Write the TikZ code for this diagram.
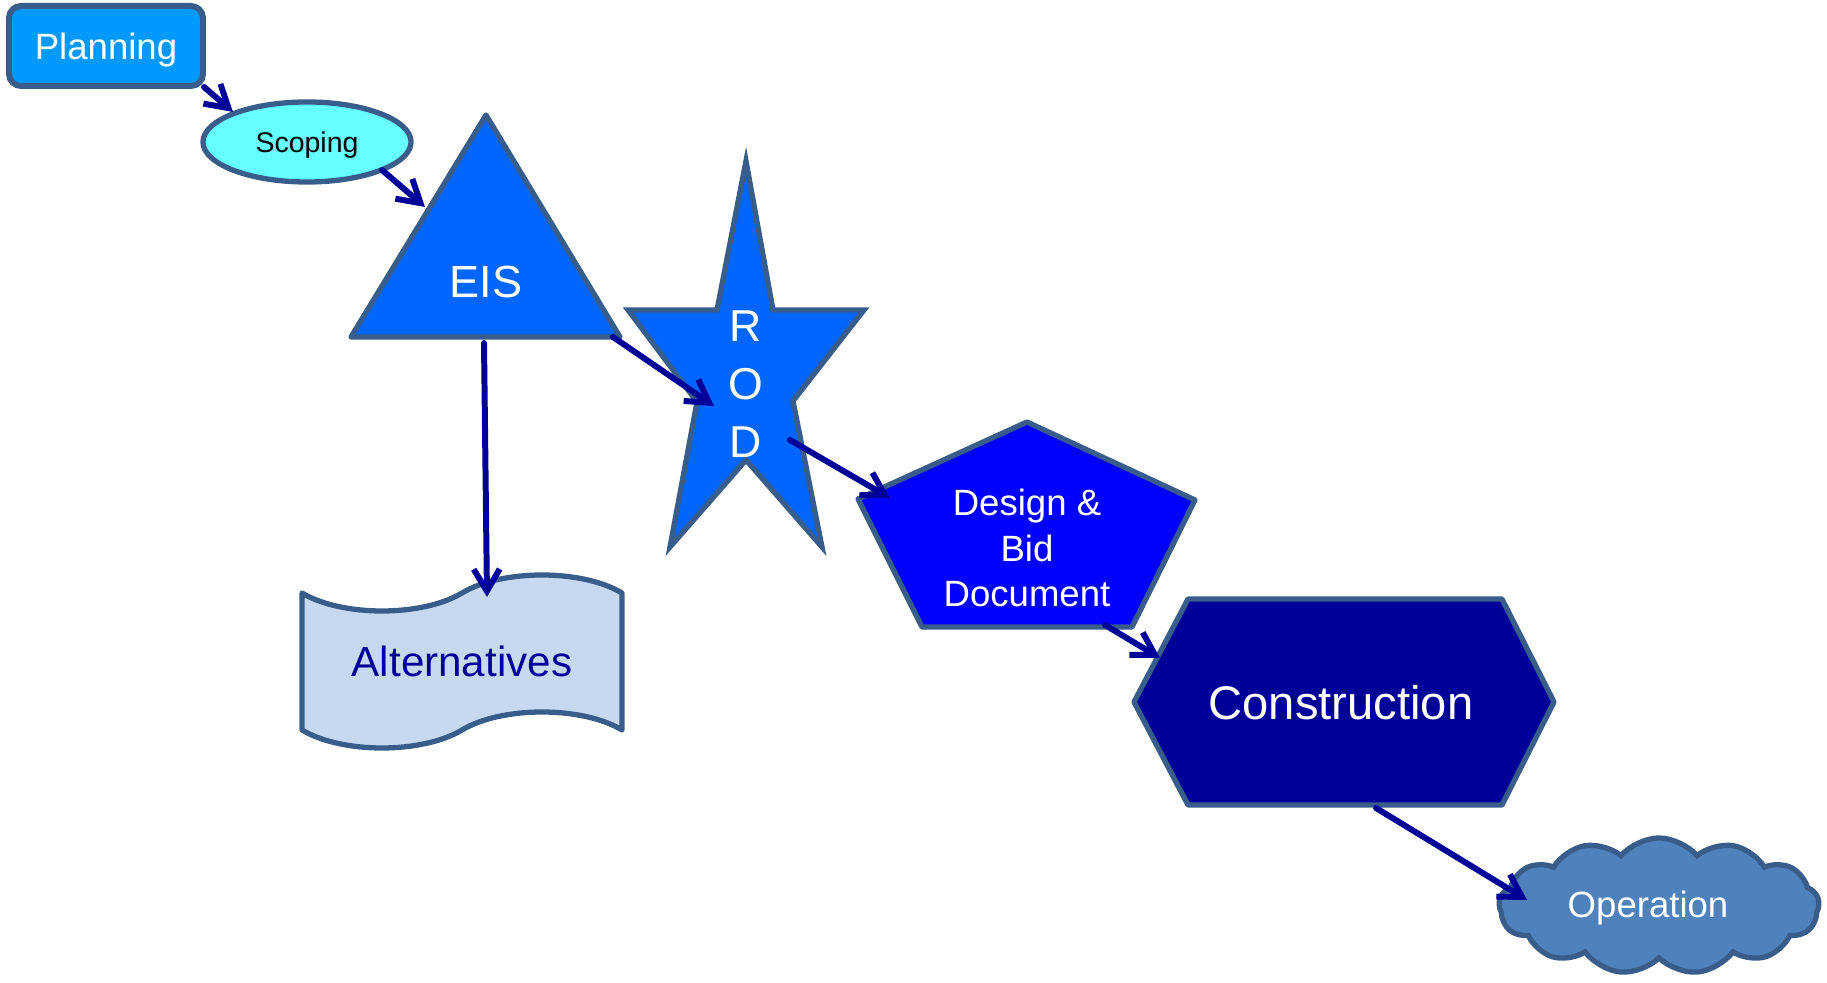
\documentclass[tikz,border=0pt]{standalone}
\usepackage{fontspec}
\setmainfont{Liberation Sans}
\usetikzlibrary{arrows.meta,shapes.symbols}

\definecolor{bordo}{RGB}{56,93,138}
\definecolor{freccia}{RGB}{0,0,153}
\definecolor{azzurro}{RGB}{0,153,255}
\definecolor{ciano}{RGB}{102,255,255}
\definecolor{blu}{RGB}{0,102,255}
\definecolor{bluforte}{RGB}{0,0,255}
\definecolor{blunotte}{RGB}{0,0,153}
\definecolor{nuvola}{RGB}{79,129,189}
\definecolor{carta}{RGB}{198,217,241}

\newcommand{\dimcar}[2]{\fontsize{#1}{#2}\selectfont}

\tikzset{
  forma/.style={draw=bordo, line width=1.5pt},
  conn/.style={draw=freccia, line width=1.7pt, line cap=round, -{Straight Barb[length=2.2mm,width=2.6mm]}},
  scritta/.style={text=white, inner sep=0pt, align=center},
}

\begin{document}
\begin{tikzpicture}[x=0.01cm, y=-0.01cm] %% 1 unita = 1 pixel
\useasboundingbox (0,0) rectangle (1827,983);

%forme
\filldraw[forma, fill=azzurro, line width=1.7pt, rounded corners=0.12cm] (9,6) rectangle (203,86);
\filldraw[forma, fill=ciano] (307,142) ellipse [x radius=1.04cm, y radius=0.4cm];
\filldraw[forma, fill=blu, line join=round] (486,115) -- (620,337) -- (351,337) -- cycle; %triangolo
\filldraw[forma, fill=blu] (746,161) -- (773,310) -- (864,310) -- (793,401) -- (822,547) -- (746,460) -- (670,547) -- (697,402) -- (628,310) -- (717,310) -- cycle; %stella
\filldraw[forma, fill=bluforte, line join=round] (1027,422) -- (1195,500) -- (1132,627) -- (922,627) -- (858,499) -- cycle; %pentagono
\filldraw[forma, fill=blunotte, line join=round] (1134,702) -- (1188,599) -- (1502,599) -- (1554,702) -- (1502,805) -- (1188,805) -- cycle; %esagono
\filldraw[forma, fill=carta, line join=round] (302,593) .. controls (342,617) and (422,617) .. (462,593) .. controls (502,569) and (582,569) .. (622,593) -- (622,730) .. controls (582,706) and (502,706) .. (462,730) .. controls (422,754) and (342,754) .. (302,730) -- cycle; %nastro
\node[cloud, forma, fill=nuvola, cloud puffs=13, cloud puff arc=100, aspect=2.4, minimum width=3.2cm, minimum height=1.36cm, inner sep=0pt] (nuv) at (1659,906) {};

%scritte
\node[scritta, anchor=base, font=\dimcar{10.4}{12}] (plan) at (106,60) {Planning};
\node[scritta, text=black, anchor=base, font=\dimcar{8.1}{10}] (scop) at (307,153) {Scoping};
\node[scritta, anchor=base, font=\dimcar{12.8}{15}] (eis) at (486,298) {EIS};
\node[scritta, font=\dimcar{12.7}{16.4}] (rod) at (746,384) {R\\O\\D};
\node[scritta, font=\dimcar{10.4}{12.9}] (dbd) at (1027,548) {Design \&\\Bid\\Document};
\node[scritta, anchor=base, font=\dimcar{13.4}{16}] (cons) at (1341,720) {Construction};
\node[scritta, text=blunotte, anchor=base, font=\dimcar{12}{14}] (alt) at (462,677) {Alternatives};
\node[scritta, anchor=base, font=\dimcar{10.4}{12}] (oper) at (1648,918) {Operation};

%frecce
\coordinate (plan-o) at (204,87);   \coordinate (scop-i) at (233,112);
\coordinate (scop-o) at (382,170);  \coordinate (eis-i) at (425,207);
\coordinate (eis-b) at (484,343);   \coordinate (alt-i) at (487,597);
\coordinate (eis-r) at (613,337);   \coordinate (rod-i) at (714,406);
\coordinate (rod-o) at (790,440);   \coordinate (dbd-i) at (890,498);
\coordinate (dbd-o) at (1105,625);  \coordinate (cons-i) at (1160,658);
\coordinate (cons-o) at (1376,808); \coordinate (oper-i) at (1527,900);

\draw[conn] (plan-o) -- (scop-i);
\draw[conn] (scop-o) -- (eis-i);
\draw[conn] (eis-b) -- (alt-i);
\draw[conn] (eis-r) -- (rod-i);
\draw[conn] (rod-o) -- (dbd-i);
\draw[conn] (dbd-o) -- (cons-i);
\draw[conn] (cons-o) -- (oper-i);

\end{tikzpicture}
\end{document}
